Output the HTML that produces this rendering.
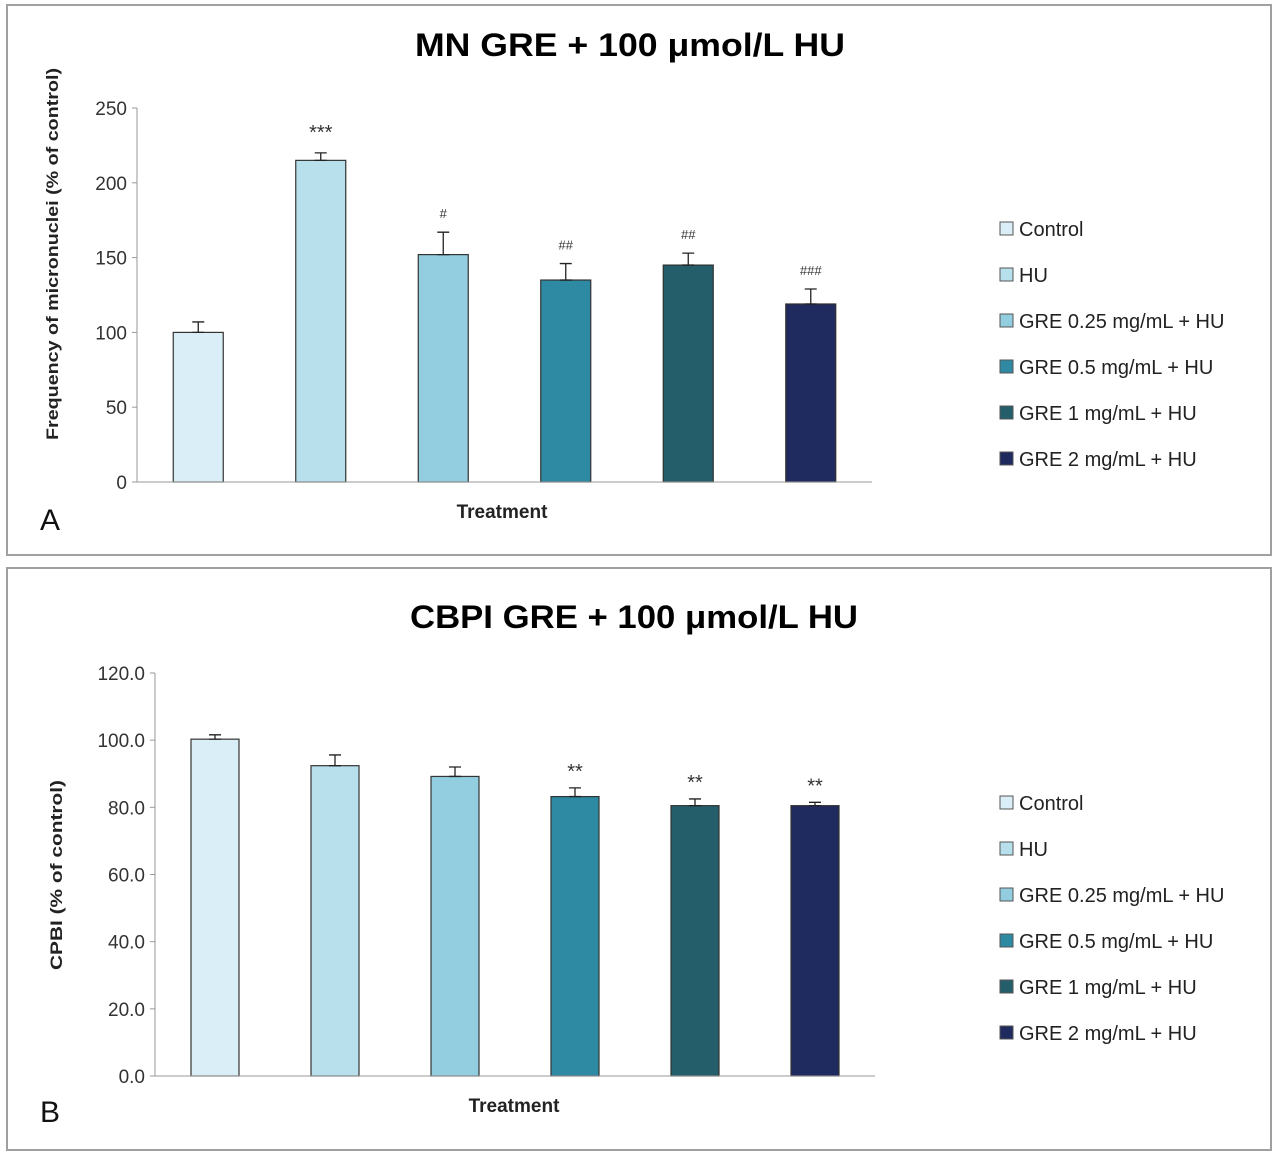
<!DOCTYPE html>
<html><head><meta charset="utf-8"><style>
html,body{margin:0;padding:0;background:#fff;}
svg text{font-family:"Liberation Sans",sans-serif;}
</style></head><body>
<svg id="fig" width="1280" height="1159" viewBox="0 0 1280 1159" xmlns="http://www.w3.org/2000/svg">
<rect x="0" y="0" width="1280" height="1159" fill="#fff"/>
<rect x="7" y="5" width="1264" height="550" fill="none" stroke="#a0a0a0" stroke-width="2"/>
<rect x="7" y="568" width="1264" height="582" fill="none" stroke="#a0a0a0" stroke-width="2"/>
<g id="chartA"></g>
<g id="chartB"></g>
</svg>
<script>
const categories = ["Control","HU","GRE 0.25 mg/mL + HU","GRE 0.5 mg/mL + HU","GRE 1 mg/mL + HU","GRE 2 mg/mL + HU"];
const colors = ["#daeef7","#b8e0ec","#92cde0","#2e8aa2","#235e6a","#1f2a5e"];
const mnValues = [100, 215, 152, 135, 145, 119];
const mnErrors = [7, 5, 15, 11, 8, 10];
const mnMarks = ["", "***", "#", "##", "##", "###"];
const mnTicks = [0, 50, 100, 150, 200, 250];
const cbValues = [100.3, 92.4, 89.2, 83.2, 80.5, 80.5];
const cbErrors = [1.3, 3.2, 2.8, 2.6, 2.0, 1.0];
const cbMarks = ["", "", "", "**", "**", "**"];
const cbTicks = [0, 20, 40, 60, 80, 100, 120];

const NS = "http://www.w3.org/2000/svg";
function mk(parent, tag, attrs, text){
  const e = document.createElementNS(NS, tag);
  for (const k in attrs) e.setAttribute(k, attrs[k]);
  if (text !== undefined) e.textContent = text;
  parent.appendChild(e);
  return e;
}

function drawChart(g, cfg){
  const y = v => cfg.y0 - (v - 0) / cfg.ymax * (cfg.y0 - cfg.yTop);
  const band = (cfg.xEnd - cfg.x0) / cfg.values.length;
  const xc = i => cfg.x0 + band * (i + 0.5);
  const t = mk(g, "text", {x: cfg.titleX, y: cfg.titleY, "font-size": 32, "font-weight": "bold", "text-anchor": "middle", fill: "#000", textLength: cfg.titleW, lengthAdjust: "spacingAndGlyphs"}, cfg.title);
  
  
  const ya = mk(g, "line", {x1: cfg.x0, y1: cfg.yTop, x2: cfg.x0, y2: cfg.y0, stroke: "#999", "stroke-width": 1});
  
  
  cfg.ticks.forEach(v => {
    const tk = mk(g, "line", {x1: cfg.x0 - 5, y1: y(v), x2: cfg.x0, y2: y(v), stroke: "#999"});
    
    
    const tl = mk(g, "text", {x: cfg.x0 - 10, y: y(v) + 7, "font-size": 19, "text-anchor": "end", fill: "#333"}, cfg.fmt(v));
    
    
  });
  cfg.values.forEach((v, i) => {
    const b = mk(g, "rect", {x: xc(i) - cfg.bw / 2, y: y(v), width: cfg.bw, height: cfg.y0 - y(v), fill: colors[i], stroke: "#333", "stroke-width": 1.2});
    
    
    const e = cfg.errors[i];
    const eb = mk(g, "path", {d: `M${xc(i)},${y(v)}V${y(v + e)}M${xc(i) - 6},${y(v + e)}H${xc(i) + 6}M${xc(i) - 6},${y(v)}H${xc(i) + 6}`, stroke: "#222", "stroke-width": 1.3, fill: "none"});
    
    
    if (cfg.marks[i]) {
      const m = mk(g, "text", {x: xc(i), y: y(v + e) - cfg.markGap, "font-size": cfg.marks[i].includes("#") ? 13 : 20, "text-anchor": "middle", fill: "#333"}, cfg.marks[i]);
      
      
    }
  });
  const xa = mk(g, "line", {x1: cfg.x0, y1: cfg.y0, x2: cfg.xEnd, y2: cfg.y0, stroke: "#999"});
  
  
  const xt = mk(g, "text", {x: cfg.xTitleX, y: cfg.y0 + 36, "font-size": 19, "font-weight": "bold", "text-anchor": "middle", fill: "#222"}, "Treatment");
  
  
  const yt = mk(g, "text", {x: 0, y: 0, "font-size": 17, "font-weight": "bold", "text-anchor": "middle", fill: "#222", transform: `translate(${cfg.yTitleX},${cfg.yTitleY}) rotate(-90)`, textLength: cfg.yTitleW, lengthAdjust: "spacingAndGlyphs"}, cfg.yTitle);
  
  
  const pl = mk(g, "text", {x: 40, y: cfg.labelY, "font-size": 30, fill: "#111"}, cfg.label);
  
  
  categories.forEach((c, i) => {
    const ly = cfg.legY + i * 46;
    const sq = mk(g, "rect", {x: 1000, y: ly - 7, width: 13, height: 13, fill: colors[i], stroke: "#555", "stroke-width": 1});
    
    
    const lt = mk(g, "text", {x: 1019, y: ly + 7, "font-size": 20, fill: "#222"}, c);
    
    
  });
}

drawChart(document.getElementById("chartA"), {
  values: mnValues, errors: mnErrors, marks: mnMarks, ticks: mnTicks, ymax: 250,
  x0: 137, xEnd: 872, y0: 482, yTop: 108, bw: 50, markGap: 14,
  fmt: v => String(v), title: "MN GRE + 100 \u03bcmol/L HU", titleX: 630, titleY: 56, titleW: 430,
  xTitleX: 502, yTitle: "Frequency of micronuclei (% of control)", yTitleX: 58, yTitleY: 254, yTitleW: 372,
  label: "A", labelY: 530, legY: 229
});
drawChart(document.getElementById("chartB"), {
  values: cbValues, errors: cbErrors, marks: cbMarks, ticks: cbTicks, ymax: 120,
  x0: 155, xEnd: 875, y0: 1076, yTop: 673, bw: 48, markGap: 10,
  fmt: v => v.toFixed(1), title: "CBPI GRE + 100 \u03bcmol/L HU", titleX: 634, titleY: 628, titleW: 448,
  xTitleX: 514, yTitle: "CPBI (% of control)", yTitleX: 62, yTitleY: 875, yTitleW: 190,
  label: "B", labelY: 1122, legY: 803
});
</script>
</body></html>
